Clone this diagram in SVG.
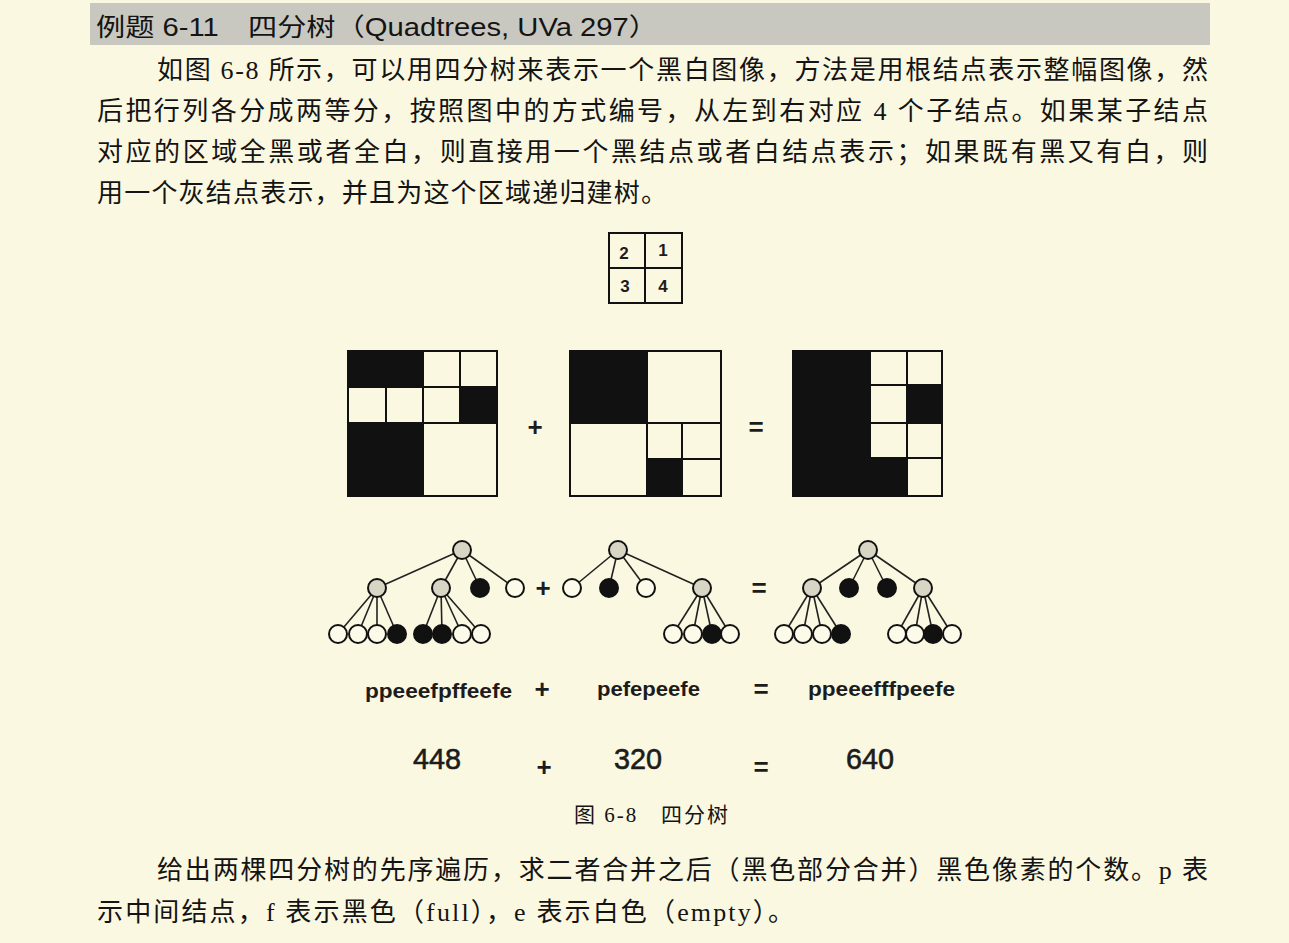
<svg xmlns="http://www.w3.org/2000/svg" width="1289" height="943" viewBox="0 0 1289 943">
<style>
.bg{fill:#fbf8e2}
.body{font-family:"Liberation Serif","Noto Sans CJK SC",serif;font-size:26px;fill:#141414}
.hd{font-family:"Liberation Sans","Noto Sans CJK SC",sans-serif;font-size:25px;fill:#141414}
.code{font-family:"Liberation Sans",sans-serif;font-size:21px;font-weight:bold;fill:#1c1c1c}
.num{font-family:"Liberation Sans",sans-serif;font-size:29px;fill:#1c1c1c;stroke:#1c1c1c;stroke-width:0.6}
.op{font-family:"Liberation Sans",sans-serif;font-size:26px;font-weight:bold;fill:#1c1c1c}
.digit{font-family:"Liberation Sans",sans-serif;font-size:17px;font-weight:bold;fill:#1c1c1c}
.cw{fill:#fbf8e2;stroke:#111;stroke-width:2}
.cb{fill:#111;stroke:#111;stroke-width:2}
.edge{stroke:#222;stroke-width:1.6;fill:none}
.ni{fill:#d8d5c5;stroke:#111;stroke-width:2}
.nb{fill:#111;stroke:#111;stroke-width:2}
.nw{fill:#fcfae8;stroke:#111;stroke-width:2}
</style>
<rect class="bg" x="0" y="0" width="1289" height="943"/>
<g id="header">
<rect x="90" y="3" width="1120" height="42" fill="#c9c8c0"/>
<text class="hd" x="96" y="36" textLength="562" lengthAdjust="spacingAndGlyphs">例题 6-11　四分树（Quadtrees, UVa 297）</text>
</g>
<g id="para1">
<text class="body" x="157" y="79" textLength="1051" lengthAdjust="spacing">如图 6-8 所示，可以用四分树来表示一个黑白图像，方法是用根结点表示整幅图像，然</text>
<text class="body" x="97" y="120" textLength="1111" lengthAdjust="spacing">后把行列各分成两等分，按照图中的方式编号，从左到右对应 4 个子结点。如果某子结点</text>
<text class="body" x="97" y="161" textLength="1111" lengthAdjust="spacing">对应的区域全黑或者全白，则直接用一个黑结点或者白结点表示；如果既有黑又有白，则</text>
<text class="body" x="97" y="202" textLength="570" lengthAdjust="spacing">用一个灰结点表示，并且为这个区域递归建树。</text>
</g>
<g id="index-grid">
<rect class="cw" x="609" y="233" width="36" height="35"/>
<rect class="cw" x="645" y="233" width="37" height="35"/>
<rect class="cw" x="609" y="268" width="36" height="35"/>
<rect class="cw" x="645" y="268" width="37" height="35"/>
<text class="digit" x="624" y="259" text-anchor="middle">2</text>
<text class="digit" x="663" y="256" text-anchor="middle">1</text>
<text class="digit" x="625" y="292" text-anchor="middle">3</text>
<text class="digit" x="663" y="292" text-anchor="middle">4</text>
</g>
<g id="image1">
<rect class="cb" x="348" y="351" width="75" height="36"/>
<rect class="cw" x="423" y="351" width="37" height="36"/>
<rect class="cw" x="460" y="351" width="37" height="36"/>
<rect class="cw" x="348" y="387" width="38" height="36"/>
<rect class="cw" x="386" y="387" width="37" height="36"/>
<rect class="cw" x="423" y="387" width="37" height="36"/>
<rect class="cb" x="460" y="387" width="37" height="36"/>
<rect class="cb" x="348" y="423" width="75" height="73"/>
<rect class="cw" x="423" y="423" width="74" height="73"/>
</g>
<g id="image2">
<rect class="cb" x="570" y="351" width="77" height="72"/>
<rect class="cw" x="647" y="351" width="74" height="72"/>
<rect class="cw" x="570" y="423" width="77" height="73"/>
<rect class="cw" x="647" y="423" width="35" height="36"/>
<rect class="cw" x="682" y="423" width="39" height="36"/>
<rect class="cb" x="647" y="459" width="35" height="37"/>
<rect class="cw" x="682" y="459" width="39" height="37"/>
</g>
<g id="image3">
<rect class="cb" x="793" y="351" width="77" height="145"/>
<rect class="cw" x="870" y="351" width="37" height="34"/>
<rect class="cw" x="907" y="351" width="35" height="34"/>
<rect class="cw" x="870" y="385" width="37" height="38"/>
<rect class="cb" x="907" y="385" width="35" height="38"/>
<rect class="cw" x="870" y="423" width="37" height="35"/>
<rect class="cw" x="907" y="423" width="35" height="35"/>
<rect class="cb" x="870" y="458" width="37" height="38"/>
<rect class="cw" x="907" y="458" width="35" height="38"/>
</g>
<g id="image-ops">
<text class="op" x="535" y="436" text-anchor="middle">+</text>
<text class="op" x="756" y="436" text-anchor="middle">=</text>
</g>
<g id="connectors">
<line class="edge" x1="462" y1="550" x2="377" y2="588"/>
<line class="edge" x1="462" y1="550" x2="441" y2="588"/>
<line class="edge" x1="462" y1="550" x2="480" y2="588"/>
<line class="edge" x1="462" y1="550" x2="515" y2="588"/>
<line class="edge" x1="377" y1="588" x2="338" y2="634"/>
<line class="edge" x1="377" y1="588" x2="358" y2="634"/>
<line class="edge" x1="377" y1="588" x2="377" y2="634"/>
<line class="edge" x1="377" y1="588" x2="397" y2="634"/>
<line class="edge" x1="441" y1="588" x2="423" y2="634"/>
<line class="edge" x1="441" y1="588" x2="442" y2="634"/>
<line class="edge" x1="441" y1="588" x2="462" y2="634"/>
<line class="edge" x1="441" y1="588" x2="481" y2="634"/>
<line class="edge" x1="618" y1="550" x2="572" y2="588"/>
<line class="edge" x1="618" y1="550" x2="609" y2="588"/>
<line class="edge" x1="618" y1="550" x2="646" y2="588"/>
<line class="edge" x1="618" y1="550" x2="702" y2="588"/>
<line class="edge" x1="702" y1="588" x2="673" y2="634"/>
<line class="edge" x1="702" y1="588" x2="693" y2="634"/>
<line class="edge" x1="702" y1="588" x2="712" y2="634"/>
<line class="edge" x1="702" y1="588" x2="730" y2="634"/>
<line class="edge" x1="868" y1="550" x2="812" y2="588"/>
<line class="edge" x1="868" y1="550" x2="849" y2="588"/>
<line class="edge" x1="868" y1="550" x2="887" y2="588"/>
<line class="edge" x1="868" y1="550" x2="923" y2="588"/>
<line class="edge" x1="812" y1="588" x2="784" y2="634"/>
<line class="edge" x1="812" y1="588" x2="803" y2="634"/>
<line class="edge" x1="812" y1="588" x2="822" y2="634"/>
<line class="edge" x1="812" y1="588" x2="841" y2="634"/>
<line class="edge" x1="923" y1="588" x2="897" y2="634"/>
<line class="edge" x1="923" y1="588" x2="915" y2="634"/>
<line class="edge" x1="923" y1="588" x2="933" y2="634"/>
<line class="edge" x1="923" y1="588" x2="952" y2="634"/>
</g>
<g id="tree1">
<circle class="ni" cx="462" cy="550" r="9"/>
<circle class="ni" cx="377" cy="588" r="9"/>
<circle class="ni" cx="441" cy="588" r="9"/>
<circle class="nb" cx="480" cy="588" r="9"/>
<circle class="nw" cx="515" cy="588" r="9"/>
<circle class="nw" cx="338" cy="634" r="9"/>
<circle class="nw" cx="358" cy="634" r="9"/>
<circle class="nw" cx="377" cy="634" r="9"/>
<circle class="nb" cx="397" cy="634" r="9"/>
<circle class="nb" cx="423" cy="634" r="9"/>
<circle class="nb" cx="442" cy="634" r="9"/>
<circle class="nw" cx="462" cy="634" r="9"/>
<circle class="nw" cx="481" cy="634" r="9"/>
</g>
<g id="tree2">
<circle class="ni" cx="618" cy="550" r="9"/>
<circle class="nw" cx="572" cy="588" r="9"/>
<circle class="nb" cx="609" cy="588" r="9"/>
<circle class="nw" cx="646" cy="588" r="9"/>
<circle class="ni" cx="702" cy="588" r="9"/>
<circle class="nw" cx="673" cy="634" r="9"/>
<circle class="nw" cx="693" cy="634" r="9"/>
<circle class="nb" cx="712" cy="634" r="9"/>
<circle class="nw" cx="730" cy="634" r="9"/>
</g>
<g id="tree3">
<circle class="ni" cx="868" cy="550" r="9"/>
<circle class="ni" cx="812" cy="588" r="9"/>
<circle class="nb" cx="849" cy="588" r="9"/>
<circle class="nb" cx="887" cy="588" r="9"/>
<circle class="ni" cx="923" cy="588" r="9"/>
<circle class="nw" cx="784" cy="634" r="9"/>
<circle class="nw" cx="803" cy="634" r="9"/>
<circle class="nw" cx="822" cy="634" r="9"/>
<circle class="nb" cx="841" cy="634" r="9"/>
<circle class="nw" cx="897" cy="634" r="9"/>
<circle class="nw" cx="915" cy="634" r="9"/>
<circle class="nb" cx="933" cy="634" r="9"/>
<circle class="nw" cx="952" cy="634" r="9"/>
</g>
<g id="tree-ops">
<text class="op" x="543" y="597" text-anchor="middle">+</text>
<text class="op" x="759" y="597" text-anchor="middle">=</text>
</g>
<g id="codes">
<text class="code" x="365" y="698" textLength="147" lengthAdjust="spacingAndGlyphs">ppeeefpffeefe</text>
<text class="op" x="542" y="698" text-anchor="middle">+</text>
<text class="code" x="597" y="696" textLength="103" lengthAdjust="spacingAndGlyphs">pefepeefe</text>
<text class="op" x="761" y="698" text-anchor="middle">=</text>
<text class="code" x="808" y="696" textLength="147" lengthAdjust="spacingAndGlyphs">ppeeefffpeefe</text>
</g>
<g id="counts">
<text class="num" x="413" y="769" textLength="48" lengthAdjust="spacingAndGlyphs">448</text>
<text class="op" x="544" y="776" text-anchor="middle">+</text>
<text class="num" x="614" y="769" textLength="48" lengthAdjust="spacingAndGlyphs">320</text>
<text class="op" x="761" y="776" text-anchor="middle">=</text>
<text class="num" x="846" y="769" textLength="48" lengthAdjust="spacingAndGlyphs">640</text>
</g>
<g id="caption">
<text class="body" x="574" y="822" style="font-size:21px" textLength="154" lengthAdjust="spacing">图 6-8　四分树</text>
</g>
<g id="para2">
<text class="body" x="157" y="879" textLength="1051" lengthAdjust="spacing">给出两棵四分树的先序遍历，求二者合并之后（黑色部分合并）黑色像素的个数。p 表</text>
<text class="body" x="97" y="921" textLength="697" lengthAdjust="spacing">示中间结点，f 表示黑色（full），e 表示白色（empty）。</text>
</g>
</svg>
